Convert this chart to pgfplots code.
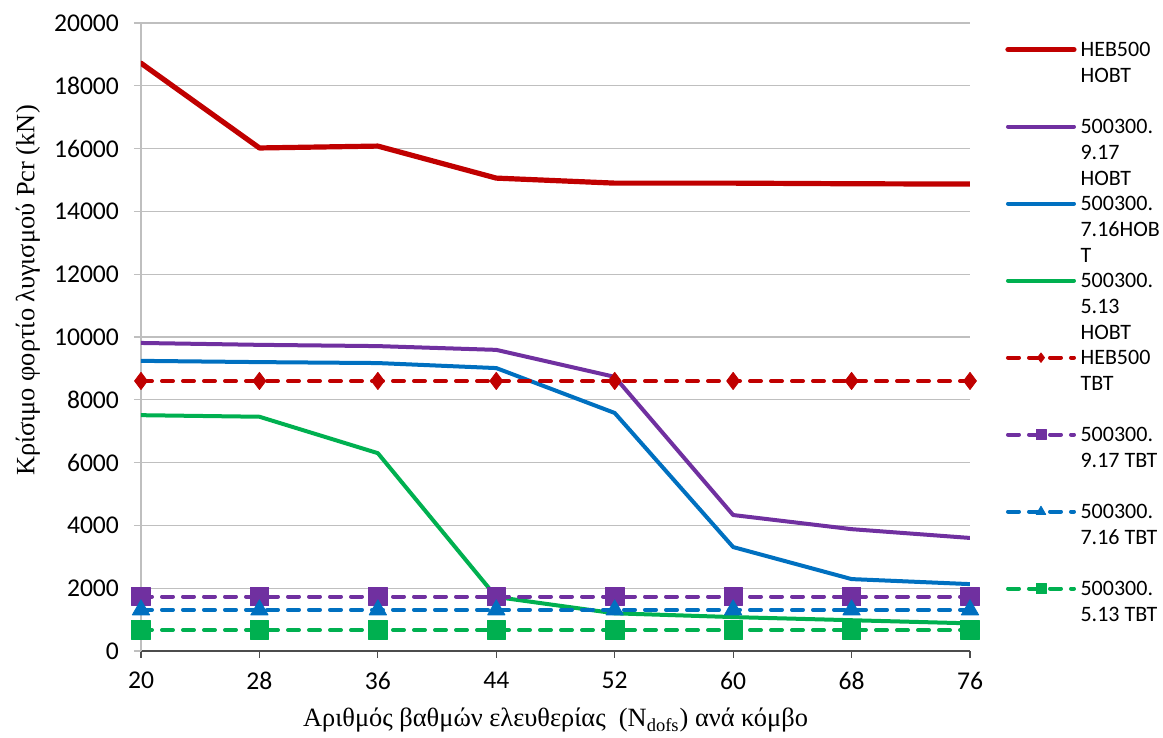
\documentclass[border=0pt]{standalone}
\usepackage{pgfplots}
\pgfplotsset{compat=1.18}
\usepackage{fontspec}
\setmainfont{Carlito}
\newfontfamily\serifgr{Liberation Serif}
\definecolor{cred}{RGB}{192,0,0}
\definecolor{cpur}{RGB}{112,48,160}
\definecolor{cblu}{RGB}{0,112,192}
\definecolor{cgrn}{RGB}{0,176,80}
\definecolor{cgrid}{RGB}{191,191,191}
\newcommand\lgent[1]{\parbox[t]{2.4cm}{\fontsize{11}{13}\selectfont\strut #1\strut}}
\begin{document}
\begin{tikzpicture}
\begin{axis}[
  scale only axis, width=414.5pt, height=314pt,
  xmin=20, xmax=76, ymin=0, ymax=20000,
  xtick={20,28,36,44,52,60,68,76},
  ytick={0,2000,4000,6000,8000,10000,12000,14000,16000,18000,20000},
  axis x line*=bottom, axis y line*=left,
  x axis line style={draw=black!70, line width=0.6pt},
  y axis line style={draw=cgrid, line width=0.6pt},
  tick align=outside, major tick length=3.5pt,
  xtick style={draw=black!70, line width=0.6pt},
  ytick style={draw=cgrid, line width=0.6pt},
  ymajorgrids, major grid style={draw=cgrid, line width=0.6pt},
  scaled y ticks=false,
  /pgf/number format/1000 sep={},
  /pgf/number format/assume math mode=true,
  tick label style={font=\fontsize{12.8}{15}\selectfont, black},
  yticklabel style={xshift=-4pt},
  xticklabel style={yshift=-3.5pt},
  xlabel={\serifgr Αριθμός βαθμών ελευθερίας~ (N\textsubscript{dofs}) ανά κόμβο},
  ylabel={\serifgr Κρίσιμο φορτίο λυγισμού Pcr (kN)},
  label style={font=\fontsize{13.2}{15}\selectfont},
  xlabel style={at={(axis description cs:0.5,-0.11)}, anchor=center},
  ylabel style={at={(axis description cs:-0.1363,0.574)}, anchor=center, rotate=0},
  legend style={draw=none, fill=none, at={(1.0422,0.983)}, anchor=north west,
    inner sep=0pt, row sep=23.9pt, cells={anchor=west}},
  legend image code/.code={\draw[mark repeat=2, mark phase=2, #1, every mark/.append style={scale=0.55}] plot coordinates {(0pt,-0.5pt) (16.5pt,-0.5pt) (33pt,-0.5pt)};},
  every axis plot/.append style={line join=round},
]
\addplot[cred, line width=2.6pt, line cap=round] coordinates {(20,18720) (28,16020) (36,16080) (44,15060) (52,14900) (60,14900) (68,14880) (76,14870)};
\addlegendentry{\lgent{HEB500\\HOBT\\}}
\addplot[cpur, line width=2pt, line cap=round] coordinates {(20,9810) (28,9750) (36,9710) (44,9590) (52,8730) (60,4330) (68,3880) (76,3600)};
\addlegendentry{\lgent{500300.\\9.17\\HOBT}}
\addplot[cblu, line width=2pt, line cap=round] coordinates {(20,9240) (28,9200) (36,9170) (44,9010) (52,7580) (60,3310) (68,2290) (76,2130)};
\addlegendentry{\lgent{500300.\\7.16HOB\\T}}
\addplot[cgrn, line width=2pt, line cap=round] coordinates {(20,7510) (28,7460) (36,6300) (44,1720) (52,1200) (60,1080) (68,980) (76,880)};
\addlegendentry{\lgent{500300.\\5.13\\HOBT}}
\addplot[cred, line width=2pt, line cap=round, dash pattern=on 5.5pt off 5pt, mark=diamond*, mark size=4.3pt, mark options={solid, fill=cred, draw=cred, line width=0.4pt}] coordinates {(20,8600) (28,8600) (36,8600) (44,8600) (52,8600) (60,8600) (68,8600) (76,8600)};
\addlegendentry{\lgent{HEB500\\TBT\\}}
\addplot[cpur, line width=2pt, line cap=round, dash pattern=on 5.5pt off 5pt, mark=square*, mark size=4.6pt, mark options={solid, fill=cpur, draw=cpur, line width=0.4pt}] coordinates {(20,1730) (28,1730) (36,1730) (44,1730) (52,1730) (60,1730) (68,1730) (76,1730)};
\addlegendentry{\lgent{500300.\\9.17 TBT\\}}
\addplot[cblu, line width=2pt, line cap=round, dash pattern=on 5.5pt off 5pt, mark=triangle*, mark size=5pt, mark options={solid, fill=cblu, draw=cblu, line width=0.4pt}] coordinates {(20,1310) (28,1310) (36,1310) (44,1310) (52,1310) (60,1310) (68,1310) (76,1310)};
\addlegendentry{\lgent{500300.\\7.16 TBT\\}}
\addplot[cgrn, line width=2pt, line cap=round, dash pattern=on 5.5pt off 5pt, mark=square*, mark size=4.6pt, mark options={solid, fill=cgrn, draw=cgrn, line width=0.4pt}] coordinates {(20,670) (28,670) (36,670) (44,670) (52,670) (60,670) (68,670) (76,670)};
\addlegendentry{\lgent{500300.\\5.13 TBT\\}}
\end{axis}
\pgfresetboundingbox
\path (-70.5pt,-43.5pt) rectangle (511pt,325.5pt);
\end{tikzpicture}
\end{document}
